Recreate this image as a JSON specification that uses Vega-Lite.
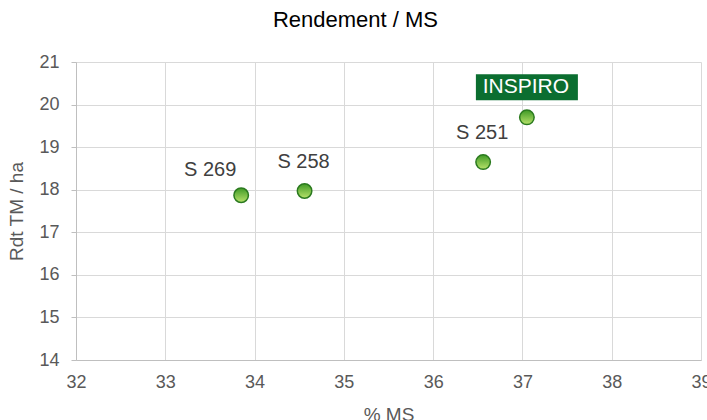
{
  "$schema": "https://vega.github.io/schema/vega-lite/v6.json",
  "width": 625,
  "height": 298,
  "autosize": "none",
  "padding": {"left": 76, "top": 62, "right": 6, "bottom": 60},
  "background": "white",
  "config": {
    "font": "Liberation Sans",
    "view": {"stroke": null},
    "axis": {"labelColor": "#595959", "titleColor": "#595959", "gridColor": "#d9d9d9", "domainColor": "#bfbfbf", "tickColor": "#bfbfbf", "labelFont": "Liberation Sans", "titleFont": "Liberation Sans", "titleFontWeight": "normal", "labelFlush": false}
  },
  "title": {"text": "Rendement / MS", "fontSize": 22, "fontWeight": "normal", "color": "#000000", "font": "Liberation Sans", "anchor": "middle", "dx": -33, "offset": 21},
  "data": {"values": [
    {"name": "S 269", "ms": 33.85, "rdt": 17.87},
    {"name": "S 258", "ms": 34.56, "rdt": 17.97},
    {"name": "S 251", "ms": 36.56, "rdt": 18.65},
    {"name": "INSPIRO", "ms": 37.05, "rdt": 19.7}
  ]},
  "encoding": {
    "x": {"field": "ms", "type": "quantitative", "scale": {"domain": [32, 39], "nice": false, "zero": false}, "axis": {"title": "% MS", "values": [32,33,34,35,36,37,38,39], "labelFontSize": 18, "titleFontSize": 19, "ticks": false, "labelPadding": 13, "titlePadding": 14, "domain": true}},
    "y": {"field": "rdt", "type": "quantitative", "scale": {"domain": [14, 21], "nice": false, "zero": false}, "axis": {"title": "Rdt TM / ha", "values": [14,15,16,17,18,19,20,21], "labelFontSize": 18, "titleFontSize": 19, "ticks": true, "tickSize": 5, "labelPadding": 12, "titlePadding": 12}}
  },
  "layer": [
    {"transform": [{"filter": "datum.name === 'INSPIRO'"}],
     "mark": {"type": "point", "shape": "M-2.04,-1.72H2.04V-0.68H-2.04Z", "size": 2500, "filled": true, "fill": "#0b6e30", "stroke": null, "opacity": 1}},
    {"mark": {"type": "point", "size": 210, "filled": true, "opacity": 1, "strokeWidth": 1.5, "stroke": "#2b7a1f",
      "fill": {"gradient": "linear", "x1": 0, "y1": 0, "x2": 0, "y2": 1, "stops": [{"offset": 0, "color": "#3f9a26"}, {"offset": 1, "color": "#b8e26a"}]}}},
    {"transform": [{"filter": "datum.name === 'S 269'"}],
     "mark": {"type": "text", "fontSize": 20, "color": "#404040", "dx": -31, "dy": -25, "baseline": "middle"},
     "encoding": {"text": {"field": "name"}}},
    {"transform": [{"filter": "datum.name === 'S 258' || datum.name === 'S 251'"}],
     "mark": {"type": "text", "fontSize": 20, "color": "#404040", "dx": -1, "dy": -29, "baseline": "middle"},
     "encoding": {"text": {"field": "name"}}},
    {"transform": [{"filter": "datum.name === 'INSPIRO'"}],
     "mark": {"type": "text", "fontSize": 21, "color": "#ffffff", "dx": -1, "dy": -30, "baseline": "middle"},
     "encoding": {"text": {"field": "name"}}}
  ]
}
